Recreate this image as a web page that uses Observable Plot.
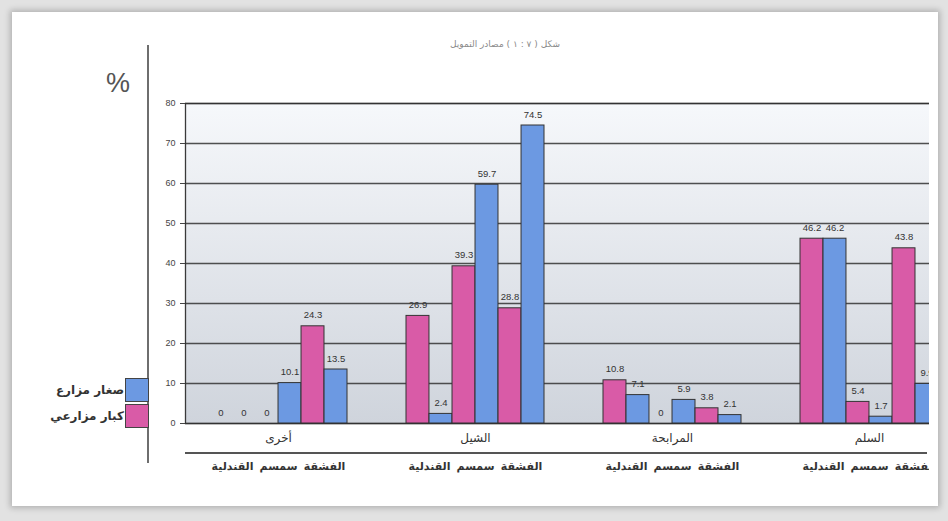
<!DOCTYPE html>
<html><head><meta charset="utf-8">
<script src="https://cdn.jsdelivr.net/npm/d3@7"></script>
<script src="https://cdn.jsdelivr.net/npm/@observablehq/plot@0.6"></script>
<style>
html,body{margin:0;padding:0;background:#e2e2e2;overflow:hidden}
#page{position:relative;width:948px;height:521px;font-family:"Liberation Sans","DejaVu Sans",sans-serif}
#paper{position:absolute;left:12px;top:12px;width:926px;height:494px;background:#fff;box-shadow:0 0 6px 2px rgba(0,0,0,.22)}
#clip{position:absolute;left:0;top:0;width:929px;height:521px;overflow:hidden}
#clip svg{max-width:none !important;height:490px !important}
#title{position:absolute;left:420px;width:170px;top:39px;text-align:center;font-size:9px;color:#8a8a8a;font-family:"DejaVu Sans",sans-serif}
#pct{position:absolute;left:106px;top:68px;font-size:27px;color:#555}
#vline{position:absolute;left:147px;top:45px;width:2px;height:418px;background:#6e6e6e}
#bline{position:absolute;left:185px;top:452px;width:742px;height:2px;background:#555}
#legend{position:absolute;left:20px;top:377px;width:129px;font-family:"DejaVu Sans",sans-serif;font-weight:bold;font-size:12px;color:#333}
.row{display:flex;justify-content:flex-end;align-items:center;height:25px;margin-bottom:1px}
.sw{width:22px;height:22px;border:1px solid #444;margin-left:1px}
</style></head>
<body>
<div id="page">
  <div id="paper"></div>
  <div id="vline"></div>
  <div id="pct">%</div>
  <div id="clip"></div>
  <div id="bline"></div>
  <div id="title"></div>
  <div id="legend"></div>
</div>
<script>
const titleText = "شكل ( ٧ : ١ ) مصادر التمويل";
const groups = ["أخرى", "الشيل", "المرابحة", "السلم"];
const regions = ["القندلية", "سمسم", "الفشقة"];
const seriesNames = ["كبار مزارعي", "صغار مزارع"];
const largeFarmers = [[0, 0, 24.3], [26.9, 39.3, 28.8], [10.8, 0, 3.8], [46.2, 5.4, 43.8]];
const smallFarmers = [[0, 10.1, 13.5], [2.4, 59.7, 74.5], [7.1, 5.9, 2.1], [46.2, 1.7, 9.9]];
const yTicks = [0, 10, 20, 30, 40, 50, 60, 70, 80];
const colors = ["#d95ba7", "#6c99e2"];

document.getElementById("title").textContent = titleText;
const leg = document.getElementById("legend");
[1, 0].forEach(s => {
  const r = document.createElement("div"); r.className = "row";
  const t = document.createElement("span"); t.textContent = seriesNames[s];
  const sw = document.createElement("div"); sw.className = "sw"; sw.style.background = colors[s];
  r.appendChild(t); r.appendChild(sw); leg.appendChild(r);
});

const rows = [];
groups.forEach((g, gi) => regions.forEach((r, ri) => {
  rows.push({group: g, region: r, series: 0, value: largeFarmers[gi][ri], k: ri * 2});
  rows.push({group: g, region: r, series: 1, value: smallFarmers[gi][ri], k: ri * 2 + 1});
}));

const W = 962, ML = 185, MR = 0;
const xOpts = {domain: groups, paddingInner: 0.3, paddingOuter: 0.12};
const base = {
  width: W, height: 490,
  marginLeft: ML, marginRight: MR, marginTop: 103, marginBottom: 67,
  x: {...xOpts, axis: null},
  y: {domain: [0, 80], axis: null, label: null},
  style: {fontFamily: '"Liberation Sans","DejaVu Sans",sans-serif', background: "transparent", color: "#444", overflow: "visible", maxWidth: "none"}
};
const xs = Plot.scale({x: {type: "band", ...xOpts, range: [ML, W - MR]}});
const bw = xs.bandwidth;
const w6 = bw / 6;

const marks = [
  Plot.frame({fill: "url(#plotBg)", stroke: "#3a3a3a", strokeWidth: 1.3}),
  Plot.gridY(yTicks, {stroke: "#333", strokeOpacity: 0.85, strokeWidth: 1.3}),
  Plot.axisY(yTicks, {tickSize: 5, tickPadding: 5, fontSize: 9, label: null})
];
for (let k = 0; k < 6; k++) {
  const d = rows.filter(r => r.k === k);
  marks.push(Plot.barY(d, {x: "group", y: "value", fill: colors[k % 2], stroke: "#333", strokeWidth: 1,
    insetLeft: k * w6, insetRight: (5 - k) * w6}));
  marks.push(Plot.text(d, {x: "group", y: "value", text: r => String(r.value), dx: (k + 0.5) * w6 - bw / 2,
    dy: -11, fontSize: 9.5, fill: "#333"}));
}
marks.push(Plot.text(groups, {x: d => d, frameAnchor: "bottom", dy: 18, text: d => d, fontSize: 12, fill: "#333", fontFamily: '"DejaVu Sans",sans-serif'}));
for (let j = 0; j < 3; j++) {
  marks.push(Plot.text(groups, {x: d => d, frameAnchor: "bottom", dy: 46, dx: (j - 1) * bw / 3,
    text: () => regions[j], fontSize: 11, fontWeight: "bold", fill: "#333", fontFamily: '"DejaVu Sans",sans-serif'}));
}
const chart = Plot.plot({...base, marks});
d3.select(chart).insert("defs", ":first-child").html(
  '<linearGradient id="plotBg" x1="0" y1="0" x2="0" y2="1"><stop offset="0" stop-color="#f6f8fb"/><stop offset="1" stop-color="#cfd4dc"/></linearGradient>');
document.getElementById("clip").appendChild(chart);
</script>
</body></html>
